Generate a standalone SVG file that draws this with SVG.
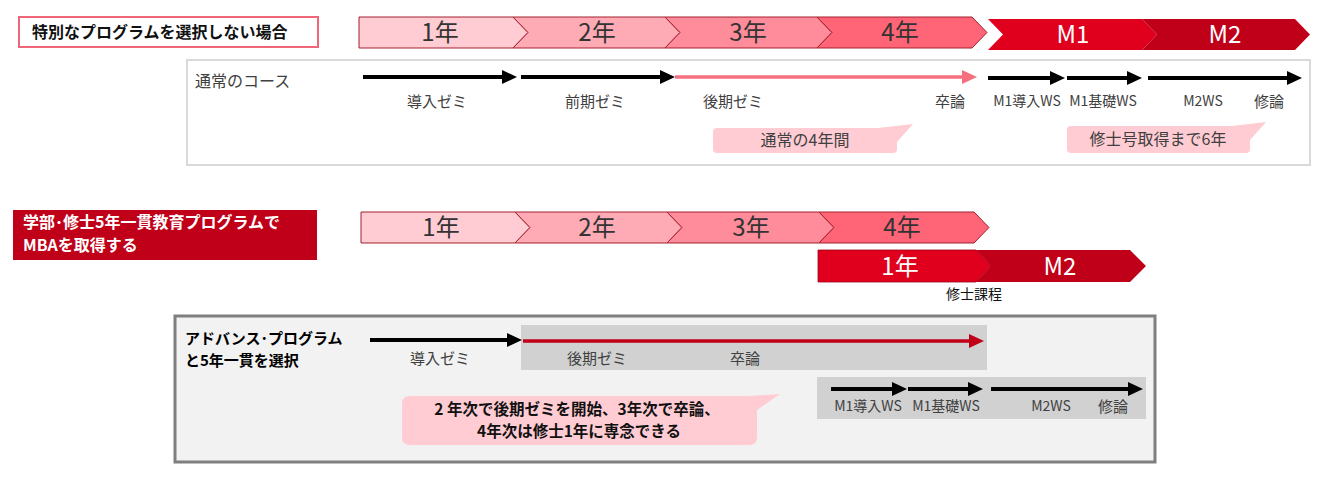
<svg xmlns="http://www.w3.org/2000/svg" width="1329" height="481" viewBox="0 0 1329 481">
<defs>
<style>
text{font-family:"Noto Sans CJK JP","Noto Sans",sans-serif;}
.yr{font-size:24px;fill:#333;text-anchor:middle;}
.yrw{font-size:24px;fill:#fff;text-anchor:middle;}
.lbl{font-size:15px;fill:#404040;text-anchor:middle;}
.ws{font-size:14px;fill:#404040;text-anchor:middle;}
.cl{font-size:16px;fill:#404040;text-anchor:middle;}
.bold{font-weight:bold;}
.c1{fill:#FFCCD3;stroke:#A3202F;stroke-width:1;}
.c2{fill:#FFABB6;stroke:#A3202F;stroke-width:1;}
.c3{fill:#FF8C9A;stroke:#A3202F;stroke-width:1;}
.c4{fill:#FF6577;stroke:#A3202F;stroke-width:1;}
.m1{fill:#E0001E;}
.m2{fill:#C00018;}
.bk{stroke:#000;stroke-width:4;fill:none;}
.pk{stroke:#F4707E;stroke-width:3.5;fill:none;}
.rd{stroke:#C00018;stroke-width:3.5;fill:none;}
.bub{fill:#FFCCD3;}
</style>
<marker id="ab" viewBox="0 0 15 14" refX="3" refY="7" markerWidth="15" markerHeight="14" markerUnits="userSpaceOnUse" orient="auto"><path d="M0,0 L15,7 L0,14 z" fill="#000"/></marker>
<marker id="ap" viewBox="0 0 15 14" refX="3" refY="7" markerWidth="15" markerHeight="14" markerUnits="userSpaceOnUse" orient="auto"><path d="M0,0 L15,7 L0,14 z" fill="#F4707E"/></marker>
<marker id="ar" viewBox="0 0 15 14" refX="3" refY="7" markerWidth="15" markerHeight="14" markerUnits="userSpaceOnUse" orient="auto"><path d="M0,0 L15,7 L0,14 z" fill="#C00018"/></marker>
</defs>
<rect width="1329" height="481" fill="#fff"/>

<!-- Section 1 -->
<g id="label-normal">
<rect x="19" y="17" width="299" height="30" fill="#fff" stroke="#EE6677" stroke-width="2"/>
<text x="32" y="38" class="bold" font-size="16" fill="#111">特別なプログラムを選択しない場合</text>
</g>
<g id="top-chevrons">
<polygon class="c1" points="359,17 513,17 528,32.5 513,48 359,48"/>
<polygon class="c2" points="513,17 665,17 680,32.5 665,48 513,48 528,32.5"/>
<polygon class="c3" points="665,17 817,17 832,32.5 817,48 665,48 680,32.5"/>
<polygon class="c4" points="817,17 972,17 987,32.5 972,48 817,48 832,32.5"/>
<polygon class="m1" points="988,19 1142,19 1157,34.5 1142,50 988,50 1003,34.5"/>
<polygon class="m2" points="1142,19 1295,19 1310,34.5 1295,50 1142,50 1157,34.5"/>
<text x="440" y="41" class="yr">1年</text>
<text x="597" y="41" class="yr">2年</text>
<text x="748" y="41" class="yr">3年</text>
<text x="900" y="41" class="yr">4年</text>
<text x="1073" y="43" class="yrw">M1</text>
<text x="1225" y="43" class="yrw">M2</text>
</g>
<g id="normal-course">
<rect x="187" y="60" width="1123" height="105" fill="#fff" stroke="#D9D9D9" stroke-width="2"/>
<text x="195" y="87" font-size="16" fill="#404040">通常のコース</text>
<text x="437" y="107" class="lbl">導入ゼミ</text>
<text x="595" y="107" class="lbl">前期ゼミ</text>
<text x="733" y="107" class="lbl">後期ゼミ</text>
<text x="950" y="107" class="lbl">卒論</text>
<text x="1027" y="106" class="ws">M1導入WS</text>
<text x="1103" y="106" class="ws">M1基礎WS</text>
<text x="1203" y="106" class="ws">M2WS</text>
<text x="1269" y="107" class="lbl">修論</text>
</g>
<g id="callout-4years">
<path class="bub" d="M717,128 H878 L913,124 L897,142 V149 Q897,153 893,153 H717 Q713,153 713,149 V132 Q713,128 717,128 z"/>
<text x="805" y="146" class="cl">通常の4年間</text>
</g>
<g id="callout-6years">
<path class="bub" d="M1071,126 H1232 L1266,122 L1250,140 V149 Q1250,153 1246,153 H1071 Q1067,153 1067,149 V130 Q1067,126 1071,126 z"/>
<text x="1158" y="145" class="cl">修士号取得まで6年</text>
</g>

<!-- Section 2 -->
<g id="label-5year">
<rect x="13" y="210" width="304" height="50" fill="#C00018"/>
<text class="bold" font-size="16" fill="#fff"><tspan x="23" y="228">学部･修士5年一貫教育プログラムで</tspan><tspan x="23" y="251">MBAを取得する</tspan></text>
</g>
<g id="mid-chevrons">
<polygon class="c1" points="361,212 515,212 530,227.5 515,243 361,243"/>
<polygon class="c2" points="515,212 667,212 682,227.5 667,243 515,243 530,227.5"/>
<polygon class="c3" points="667,212 819,212 834,227.5 819,243 667,243 682,227.5"/>
<polygon class="c4" points="819,212 974,212 989,227.5 974,243 819,243 834,227.5"/>
<text x="441" y="236" class="yr">1年</text>
<text x="597" y="236" class="yr">2年</text>
<text x="751" y="236" class="yr">3年</text>
<text x="902" y="236" class="yr">4年</text>
</g>
<g id="master-chevrons">
<polygon class="m1" stroke="#A00018" stroke-width="0.8" points="818,250 976,250 991,266 976,282 818,282"/>
<polygon class="m2" points="976,250 1130,250 1146,266 1130,282 976,282 991,266"/>
<text x="900" y="275" class="yrw">1年</text>
<text x="1060" y="275" class="yrw">M2</text>
<text x="974" y="299" font-size="14" fill="#111" text-anchor="middle">修士課程</text>
</g>
<g id="advance-program">
<rect x="175" y="316" width="980" height="146" fill="#F2F2F2" stroke="#7F7F7F" stroke-width="3"/>
<rect x="521" y="325" width="466" height="45" fill="#D1D1D1"/>
<rect x="817" y="377" width="329" height="42" fill="#D1D1D1"/>
<text class="bold" font-size="15" fill="#000"><tspan x="185" y="344">アドバンス･プログラム</tspan><tspan x="185" y="366">と5年一貫を選択</tspan></text>
<text x="440" y="364" class="lbl">導入ゼミ</text>
<text x="597" y="364" class="lbl">後期ゼミ</text>
<text x="745" y="364" class="lbl">卒論</text>
<text x="868" y="411" class="ws">M1導入WS</text>
<text x="946" y="411" class="ws">M1基礎WS</text>
<text x="1051" y="411" class="ws">M2WS</text>
<text x="1113" y="412" class="lbl">修論</text>
</g>
<g id="callout-advance">
<path class="bub" d="M410,396 H748 L780,394 L757,410 V437 Q757,445 749,445 H410 Q402,445 402,437 V404 Q402,396 410,396 z"/>
<text class="bold" font-size="15.5" fill="#111" text-anchor="middle"><tspan x="577" y="414.5">2 年次で後期ゼミを開始、3年次で卒論、</tspan><tspan x="579" y="437">4年次は修士1年に専念できる</tspan></text>
</g>

<g id="connectors">
<line class="bk" x1="363" y1="77" x2="505" y2="77" marker-end="url(#ab)"/>
<line class="bk" x1="521" y1="77" x2="663" y2="77" marker-end="url(#ab)"/>
<line class="pk" x1="675" y1="77" x2="965" y2="77" marker-end="url(#ap)"/>
<line class="bk" x1="988" y1="78" x2="1053" y2="78" marker-end="url(#ab)"/>
<line class="bk" x1="1067" y1="78" x2="1130" y2="78" marker-end="url(#ab)"/>
<line class="bk" x1="1148" y1="78" x2="1290" y2="78" marker-end="url(#ab)"/>
<line class="bk" x1="370" y1="340" x2="510" y2="340" marker-end="url(#ab)"/>
<line class="rd" x1="523" y1="341" x2="972" y2="341" marker-end="url(#ar)"/>
<line class="bk" x1="831" y1="389" x2="895" y2="389" marker-end="url(#ab)"/>
<line class="bk" x1="908" y1="389" x2="971" y2="389" marker-end="url(#ab)"/>
<line class="bk" x1="991" y1="389" x2="1131" y2="389" marker-end="url(#ab)"/>
</g>
</svg>
